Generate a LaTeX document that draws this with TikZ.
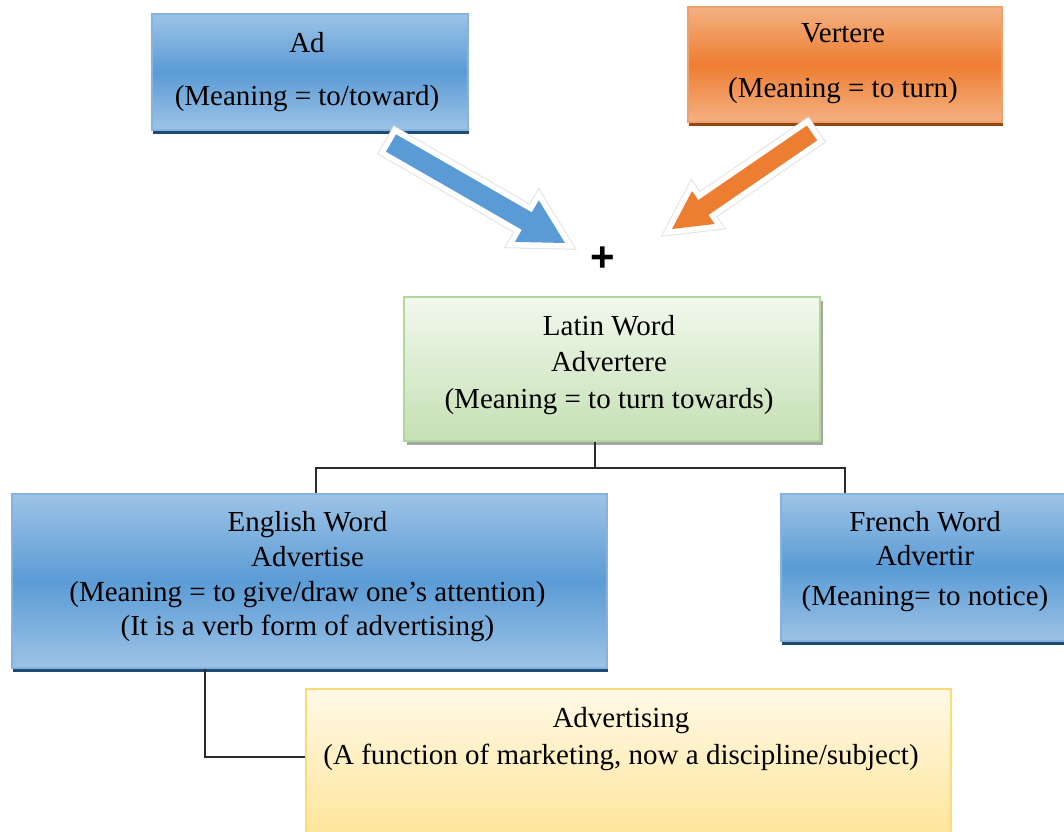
\documentclass[tikz,border=0pt]{standalone}
\usepackage{fontspec}
\setmainfont{Liberation Serif}
\newfontfamily\plusfont{Liberation Sans}
\usetikzlibrary{calc,shadings,shadows}
\definecolor{blueL}{HTML}{9DC3E6}
\definecolor{blueM}{HTML}{5B9BD5}
\definecolor{blueB}{HTML}{86B2DD}
\definecolor{blueD}{HTML}{1F4A73}
\definecolor{orangeL}{HTML}{F4B183}
\definecolor{orangeM}{HTML}{ED7D31}
\definecolor{orangeB}{HTML}{F0A06A}
\definecolor{orangeD}{HTML}{94460F}
\definecolor{greenT}{HTML}{F1F8ED}
\definecolor{greenB}{HTML}{C5E0B4}
\definecolor{greenE}{HTML}{B2D79C}
\definecolor{yellowT}{HTML}{FFF9E6}
\definecolor{yellowB}{HTML}{FFE08A}
\definecolor{yellowE}{HTML}{FFDC73}
\definecolor{lineC}{HTML}{2B2B2B}
\definecolor{blueS}{HTML}{8FA6C0}
\definecolor{orangeS}{HTML}{C4A38C}
\definecolor{rimC}{HTML}{E4E4E4}
\tikzset{
  box/.style={rectangle, inner sep=0pt, line width=1.2pt},
  bluebox/.style={box, draw=blueB, top color=blueL, bottom color=blueL, middle color=blueM,
    drop shadow={shadow xshift=0.5pt, shadow yshift=-3.5pt, fill=blueD, opacity=1}},
  orangebox/.style={box, draw=orangeB, top color=orangeL, bottom color=orangeL, middle color=orangeM,
    drop shadow={shadow xshift=0.5pt, shadow yshift=-3.5pt, fill=orangeD, opacity=1}},
  greenbox/.style={box, draw=greenE, top color=greenT, bottom color=greenB,
    drop shadow={shadow xshift=3pt, shadow yshift=-4pt, fill=black, opacity=.35}},
  yellowbox/.style={box, draw=yellowE, top color=yellowT, bottom color=yellowB},
  txt/.style={align=center, inner sep=0pt, font=\fontsize{29}{35}\selectfont},
  conn/.style={draw=lineC, line width=2pt},
}
\newcommand\fatarrow[7]{%
  \coordinate (#1-b) at ($(#2)!#6!(#1)$);
  \path[fill=#4, draw=#4, line width=12pt, line join=miter, yshift=-5pt]
    ($(#1)!#5!90:(#2)$) -- ($(#1-b)!#5!90:(#2)$) -- ($(#1-b)!#7!90:(#2)$) -- (#2)
    -- ($(#1-b)!#7!-90:(#2)$) -- ($(#1-b)!#5!-90:(#2)$) -- ($(#1)!#5!-90:(#2)$) -- cycle;
  \path[fill=white, draw=rimC, line width=13pt, line join=miter]
    ($(#1)!#5!90:(#2)$) -- ($(#1-b)!#5!90:(#2)$) -- ($(#1-b)!#7!90:(#2)$) -- (#2)
    -- ($(#1-b)!#7!-90:(#2)$) -- ($(#1-b)!#5!-90:(#2)$) -- ($(#1)!#5!-90:(#2)$) -- cycle;
  \path[fill=white, draw=white, line width=11pt, line join=miter]
    ($(#1)!#5!90:(#2)$) -- ($(#1-b)!#5!90:(#2)$) -- ($(#1-b)!#7!90:(#2)$) -- (#2)
    -- ($(#1-b)!#7!-90:(#2)$) -- ($(#1-b)!#5!-90:(#2)$) -- ($(#1)!#5!-90:(#2)$) -- cycle;
  \path[fill=#3]
    ($(#1)!#5!90:(#2)$) -- ($(#1-b)!#5!90:(#2)$) -- ($(#1-b)!#7!90:(#2)$) -- (#2)
    -- ($(#1-b)!#7!-90:(#2)$) -- ($(#1-b)!#5!-90:(#2)$) -- ($(#1)!#5!-90:(#2)$) -- cycle;
}
\begin{document}
\begin{tikzpicture}[x=1pt,y=-1pt]
\useasboundingbox (0,0) rectangle (1064,831);
\clip (0,0) rectangle (1064,831);
\fill[white] (0,0) rectangle (1064,831);

% boxes
\node[bluebox, minimum width=316pt, minimum height=116pt] (ad) at (310,72) {};
\node[orangebox, minimum width=314pt, minimum height=115pt] (vert) at (845,64.5) {};
\node[greenbox, minimum width=416pt, minimum height=144pt] (latin) at (612,369) {};
\node[bluebox, minimum width=595pt, minimum height=174pt] (english) at (309.5,581) {};
\node[bluebox, minimum width=288pt, minimum height=147pt] (french) at (925,567.5) {};
\node[yellowbox, minimum width=645pt, minimum height=181pt] (advert) at (628.5,779.5) {};

% texts
\node[txt] (adT) at (307,72.5) {Ad\\[18pt](Meaning = to/toward)};
\node[txt] (vertT) at (843,63.5) {Vertere\\[20pt](Meaning = to turn)};
\node[txt, font=\fontsize{29}{36.5}\selectfont] (latinT) at (609,365) {Latin Word\\Advertere\\(Meaning = to turn towards)};
\node[txt, font=\fontsize{29}{34.7}\selectfont] (englishT) at (307.5,577) {English Word\\Advertise\\(Meaning = to give/draw one’s attention)\\(It is a verb form of advertising)};
\node[txt, font=\fontsize{29}{34}\selectfont] (frenchT) at (925,562) {French Word\\Advertir\\[6pt](Meaning= to notice)};
\node[txt, font=\fontsize{29}{37}\selectfont] (advertT) at (621,739.5) {Advertising\\(A function of marketing, now a discipline/subject)};

% plus
\node[inner sep=0pt, font=\plusfont\bfseries\fontsize{42}{42}\selectfont] (plus) at (603,259) {+};

% fat arrows
\coordinate (bt) at (391,143);
\coordinate (bp) at (565,243);
\coordinate (ot) at (812,133);
\coordinate (op) at (672,229);
\fatarrow{bt}{bp}{blueM}{blueS}{10pt}{44pt}{24pt}
\fatarrow{ot}{op}{orangeM}{orangeS}{9pt}{38pt}{20pt}

% connectors
\draw[conn] ([xshift=-17pt]latin.south) -- ++(0,26) coordinate (bus);
\draw[conn] ([xshift=6.5pt]english.north) |- (bus) -| ([xshift=65pt]french.north west);
\draw[conn] ([xshift=-104.5pt]english.south) |- ([yshift=22.5pt]advert.west);
\end{tikzpicture}
\end{document}
